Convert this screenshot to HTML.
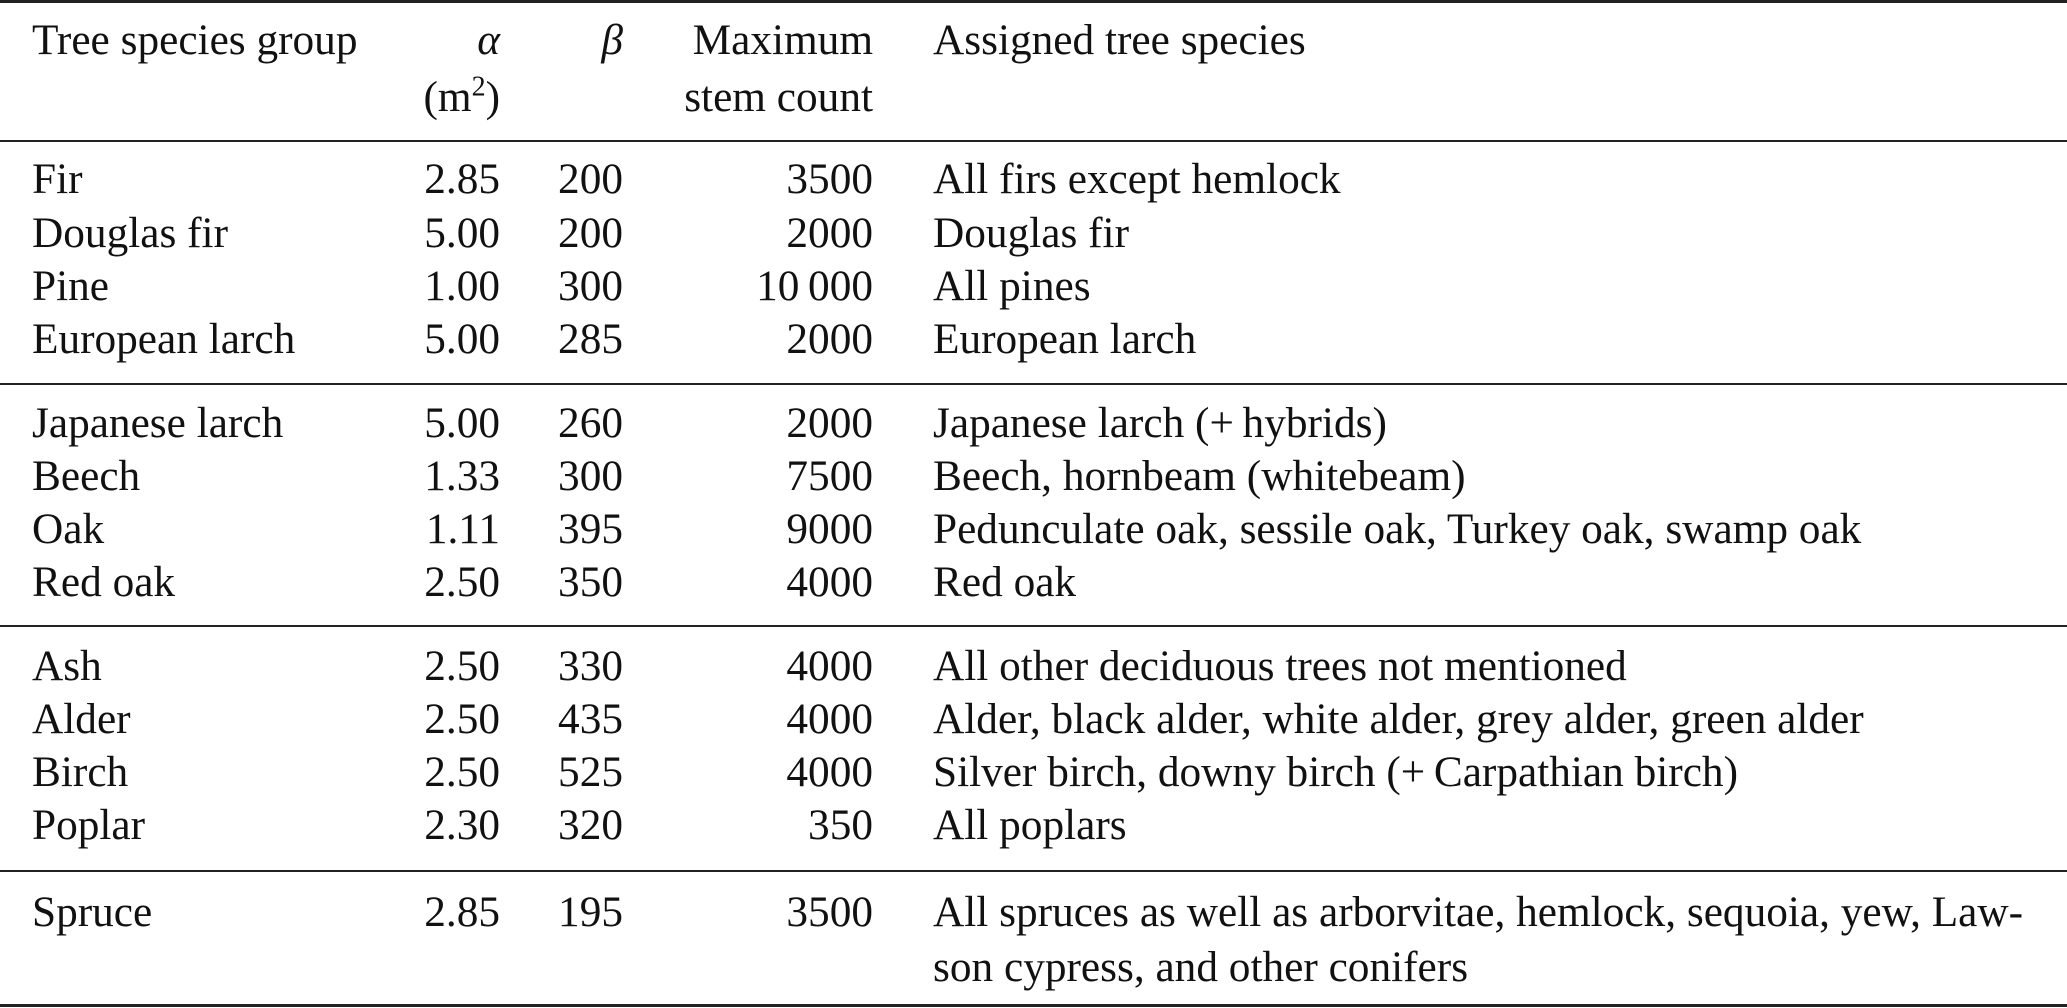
<!DOCTYPE html>
<html><head><meta charset="utf-8"><style>
body{margin:0;width:2067px;height:1008px;background:#fff;position:relative;overflow:hidden;font-family:"Liberation Serif",serif;font-size:43.3px;color:#111}
.t{position:absolute;line-height:52px;height:52px;white-space:nowrap}
.r{text-align:right}
.rule{position:absolute;left:0;width:2067px;background:#222}
sup{font-size:28px;line-height:0}
</style></head><body>
<div class="rule" style="top:0;height:3px"></div>
<div class="t" style="left:32px;top:14px">Tree species group</div>
<div class="t r" style="right:1567px;top:14px;font-style:italic">α</div>
<div class="t r" style="right:1567px;top:71px">(m<sup>2</sup>)</div>
<div class="t r" style="right:1444px;top:14px;font-style:italic">β</div>
<div class="t r" style="right:1194px;top:14px">Maximum</div>
<div class="t r" style="right:1194px;top:71px">stem count</div>
<div class="t" style="left:933px;top:14px">Assigned tree species</div>
<div class="rule" style="top:140px;height:2px"></div>
<div id="rows"></div>
<div class="rule" style="top:1004px;height:3px"></div>
<script>
const groups=["Fir","Douglas fir","Pine","European larch","Japanese larch","Beech","Oak","Red oak","Ash","Alder","Birch","Poplar","Spruce"];
const alphas=["2.85","5.00","1.00","5.00","5.00","1.33","1.11","2.50","2.50","2.50","2.50","2.30","2.85"];
const betas=["200","200","300","285","260","300","395","350","330","435","525","320","195"];
const stems=["3500","2000","10\u2009000","2000","2000","7500","9000","4000","4000","4000","4000","350","3500"];
const assigned=["All firs except hemlock","Douglas fir","All pines","European larch","Japanese larch (+\u2009hybrids)","Beech, hornbeam (whitebeam)","Pedunculate oak, sessile oak, Turkey oak, swamp oak","Red oak","All other deciduous trees not mentioned","Alder, black alder, white alder, grey alder, green alder","Silver birch, downy birch (+\u2009Carpathian birch)","All poplars","All spruces as well as arborvitae, hemlock, sequoia, yew, Law-\nson cypress, and other conifers"];
const centers=[179,233,286,339,423,476,529,582,666,719,772,825,912];
const ruleYs=[383,625,870];
const root=document.body;
function cell(txt,style,name,cls){
  const d=document.createElement('div');
  d.className='t '+(cls||'');
  
  
  d.style.cssText=style;
  d.textContent=txt;root.appendChild(d);return d;
}
groups.forEach((g,i)=>{
  const top=centers[i]-26;
  cell(g,`left:32px;top:${top}px`,'group-cell');
  cell(alphas[i],`right:1567px;top:${top}px`,'alpha-cell','r');
  cell(betas[i],`right:1444px;top:${top}px`,'beta-cell','r');
  cell(stems[i],`right:1194px;top:${top}px`,'stem-count-cell','r');
  const lines=assigned[i].split('\n');
  lines.forEach((l,j)=>cell(l,`left:933px;top:${top+j*55}px`,'assigned-species-cell'));
});
ruleYs.forEach(y=>{
  const d=document.createElement('div');
  d.className='rule';
  
  
  d.style.cssText=`top:${y}px;height:2px`;root.appendChild(d);
});
</script>
</body></html>
